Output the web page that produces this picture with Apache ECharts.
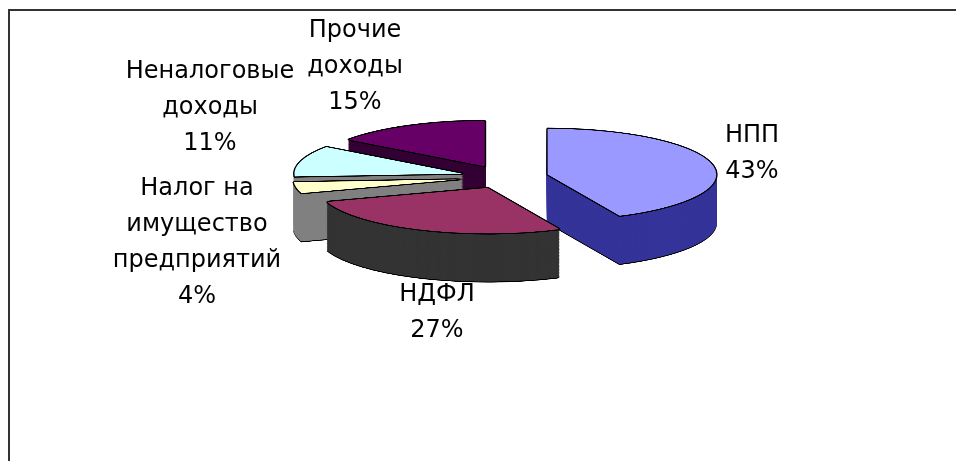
<!DOCTYPE html>
<html>
<head>
<meta charset="utf-8">
<script src="https://cdn.jsdelivr.net/npm/echarts@6/dist/echarts.min.js"></script>
<style>
  html, body { margin: 0; padding: 0; background: #fff; overflow: hidden; }
  #wrap { position: relative; width: 956px; height: 461px; overflow: hidden; }
  #pie { position: absolute; left: 0; top: 0; width: 956px; transform-origin: 0 0; }
  #overlay { position: absolute; left: 0; top: 0; width: 956px; height: 461px; }
</style>
</head>
<body>
<div id="wrap">
  <div id="pie"></div>
  <div id="overlay"></div>
</div>
<script>
// ---- data ----
const categories = ['НПП', 'НДФЛ', 'Налог на имущество предприятий', 'Неналоговые доходы', 'Прочие доходы'];
const values = [43, 27, 4, 11, 15];
const labelLines = [
  ['НПП'],
  ['НДФЛ'],
  ['Налог на', 'имущество', 'предприятий'],
  ['Неналоговые', 'доходы'],
  ['Прочие', 'доходы']
];
const topColors = ['#9999FF', '#993366', '#FFFFCC', '#CCFFFF', '#660066'];
const sideColors = ['#333399', '#333333', '#808080', '#808080', '#330033'];

// ---- layout ----
const K = 0.27;            // vertical squash of the pie plane
const CX = 505, CY = 177;  // screen centre of the (un-exploded) top face
const R = 170;             // radius (horizontal)
const EXPLODE = 43;
const DEPTH = 48;
const labelPos = [[752, 154], [437, 313], [197, 243], [210, 108], [355, 67]];

const H = Math.ceil(461 / K) + 10;
const pieDiv = document.getElementById('pie');
pieDiv.style.height = H + 'px';
pieDiv.style.transform = 'scaleY(' + K + ')';

function layer(d, colors, border) {
  return {
    type: 'pie',
    radius: R,
    center: [CX, (CY + d) / K],
    startAngle: 90,
    clockwise: true,
    selectedMode: 'multiple',
    selectedOffset: EXPLODE,
    silent: true,
    animation: false,
    label: { show: false },
    labelLine: { show: false },
    emphasis: { disabled: true },
    itemStyle: border ? { borderColor: '#000', borderWidth: 1.4 } : { borderWidth: 0 },
    data: categories.map((c, i) => ({
      name: c,
      value: values[i],
      selected: true,
      itemStyle: { color: colors[i] }
    }))
  };
}

const black = categories.map(() => '#000000');
const series = [];
series.push(layer(DEPTH + 1, black, false));
for (let d = DEPTH; d >= 2; d--) series.push(layer(d, sideColors, false));
series.push(layer(1, black, false));
series.push(layer(-1, black, false));
series.push(layer(0, topColors, true));

const pieChart = echarts.init(pieDiv, null, { renderer: 'canvas' });
pieChart.setOption({ animation: false, backgroundColor: 'transparent', series: series });

// ---- labels & frame ----
const overlay = echarts.init(document.getElementById('overlay'), null, { renderer: 'canvas' });
const texts = categories.map((c, i) => ({
  type: 'text',
  x: labelPos[i][0],
  y: labelPos[i][1],
  silent: true,
  style: {
    text: labelLines[i].concat([values[i] + '%']).join('\n'),
    fill: '#000',
    font: '24px "DejaVu Sans"',
    lineHeight: 36,
    align: 'center',
    verticalAlign: 'middle'
  }
}));
overlay.setOption({
  animation: false,
  backgroundColor: 'transparent',
  graphic: [
    { type: 'rect', silent: true, shape: { x: 9, y: 10, width: 1000, height: 500 },
      style: { fill: 'none', stroke: '#333', lineWidth: 2 } }
  ].concat(texts)
});
</script>
</body>
</html>
